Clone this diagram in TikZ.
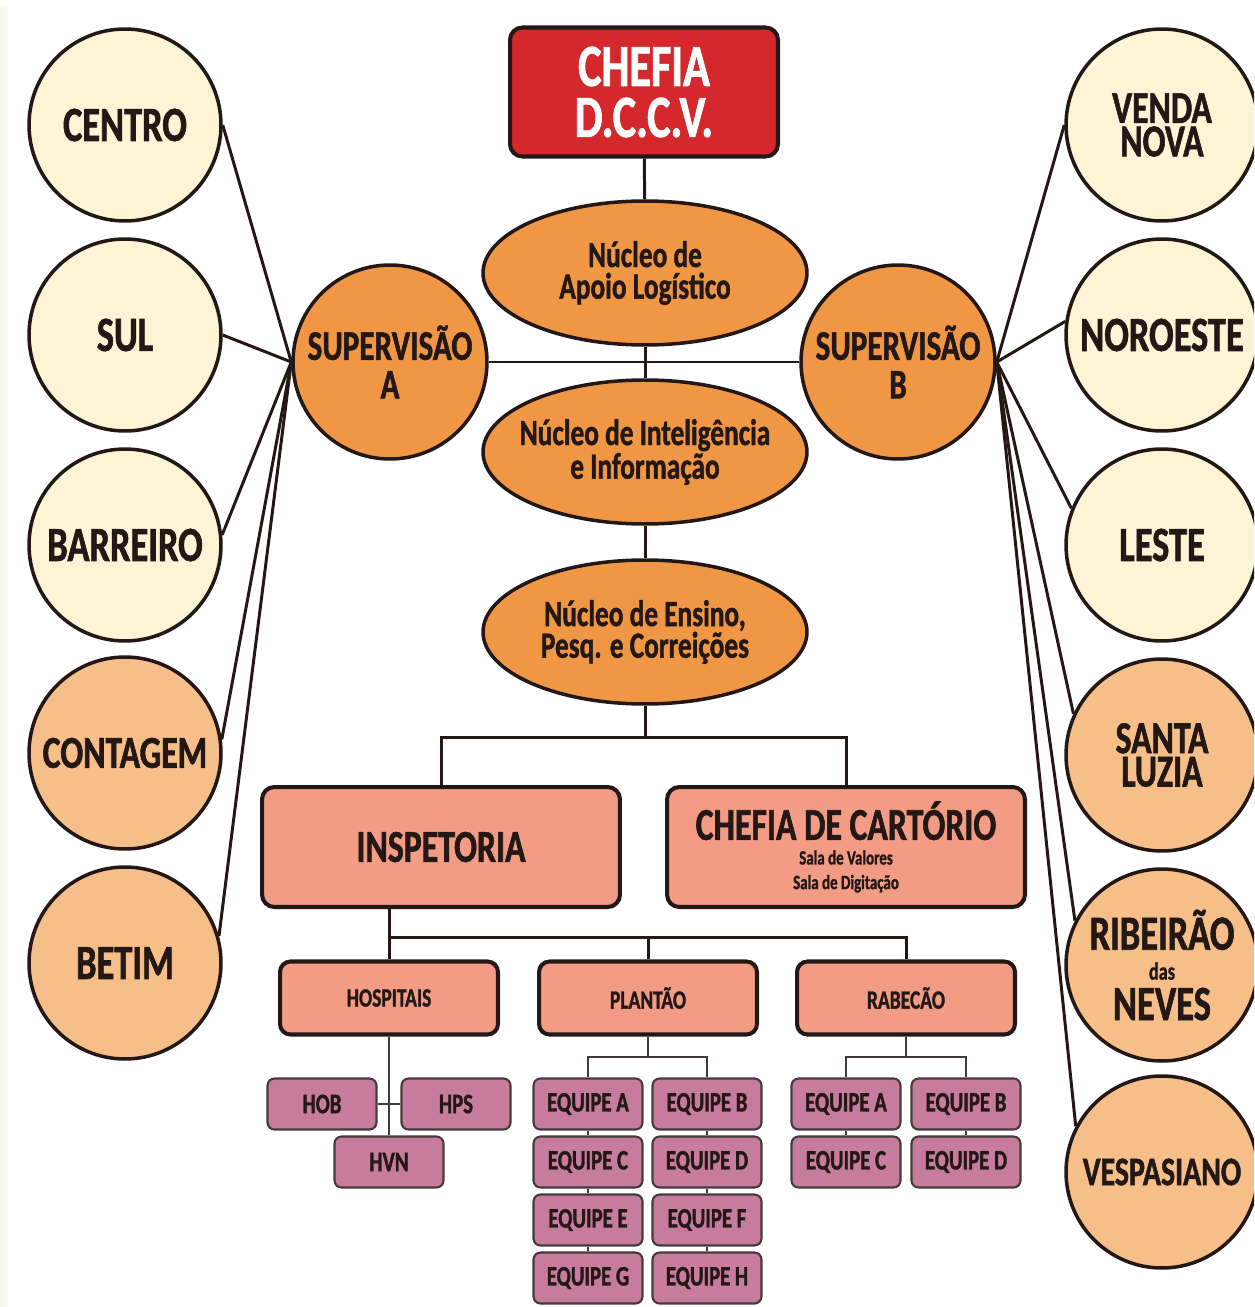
\documentclass[tikz,border=0pt]{standalone}
\usepackage{fontspec}
\setmainfont{Carlito}[FakeStretch=0.74, BoldFeatures={FakeBold=1.2}]
\usetikzlibrary{shapes.geometric}

\definecolor{cream}{HTML}{FCF4D5}
\definecolor{peach}{HTML}{F6BF8A}
\definecolor{orng}{HTML}{EF9744}
\definecolor{chefred}{HTML}{D5282D}
\definecolor{salmon}{HTML}{F29C85}
\definecolor{mauve}{HTML}{C77C9D}
\definecolor{ink}{HTML}{231815}
\newcommand{\fs}[2]{\fontsize{#1}{#2}\selectfont}

\tikzset{
  region/.style={circle, draw=ink, line width=2pt, minimum size=3.84cm, inner sep=0pt,
    align=center, text=ink, font=\bfseries\fs{28}{20}},
  superv/.style={region, fill=orng, minimum size=3.88cm, font=\bfseries\fs{24}{22}},
  nucleo/.style={ellipse, draw=ink, line width=2pt, fill=orng, minimum width=6.48cm,
    minimum height=2.88cm, inner xsep=-1cm, inner ysep=-0.4cm, align=center, text=ink,
    font=\bfseries\fs{21}{18}},
  chefe/.style={rectangle, rounded corners=7pt, draw=ink, line width=2.3pt, fill=chefred,
    text=white, minimum width=5.36cm, minimum height=2.58cm, align=center, font=\bfseries\fs{34}{29}},
  setor/.style={rectangle, rounded corners=7pt, draw=ink, line width=2.3pt, fill=salmon,
    text=ink, minimum width=7.16cm, minimum height=2.4cm, align=center, font=\bfseries\fs{26}{14}},
  secao/.style={setor, rounded corners=6pt, minimum width=4.36cm, minimum height=1.46cm,
    font=\bfseries\fs{15}{15}},
  equipe/.style={rectangle, rounded corners=4pt, draw=ink!85, line width=1.2pt, fill=mauve,
    text=ink, minimum width=2.18cm, minimum height=1.02cm, font=\bfseries\fs{16}{16}},
  link/.style={draw=ink, line width=1.7pt},
  fine/.style={draw=ink!85, line width=1pt}
}

\begin{document}
\begin{tikzpicture}[x=0.02cm, y=-0.02cm]
  \useasboundingbox (0,0) rectangle (1254,1307);
  \clip (0,0) rectangle (1254,1307);
  \shade[left color=cream!80!gray!30, right color=white] (0,8) rectangle (10,1307);

  % regionais
  \node[region, fill=cream] (centro) at (125,125) {CENTRO};
  \node[region, fill=cream] (sul) at (125,335) {SUL};
  \node[region, fill=cream] (barreiro) at (125,545) {BARREIRO};
  \node[region, fill=peach, font=\bfseries\fs{26}{19}] (contagem) at (125,753) {CONTAGEM};
  \node[region, fill=peach] (betim) at (125,963) {BETIM};
  \node[region, fill=cream, font=\bfseries\fs{26}{19}] (vnova) at (1162,125) {VENDA\\NOVA};
  \node[region, fill=cream] (noroeste) at (1162,335) {NOROESTE};
  \node[region, fill=cream] (leste) at (1162,545) {LESTE};
  \node[region, fill=peach, font=\bfseries\fs{26}{19}] (sluzia) at (1162,755) {SANTA\\LUZIA};
  \node[region, fill=peach] (ribeirao) at (1162,965) {RIBEIRÃO\\[-3pt]{\fs{14}{12}das}\\[3pt]NEVES};
  \node[region, fill=peach, font=\bfseries\fs{23}{19}] (vespa) at (1162,1172) {VESPASIANO};

  % supervisoes e chefia
  \node[superv] (supa) at (390,362) {SUPERVISÃO\\A};
  \node[superv] (supb) at (898,362) {SUPERVISÃO\\B};
  \node[chefe] (chefia) at (644,92) {CHEFIA\\D.C.C.V.};

  % nucleos
  \node[nucleo] (apoio) at (645,273) {Núcleo de\\Apoio Logístico};
  \node[nucleo] (intel) at (645,452) {Núcleo de Inteligência\\e Informação};
  \node[nucleo] (ensino) at (645,632) {Núcleo de Ensino,\\Pesq. e Correições};

  % setores
  \node[setor] (insp) at (441,847) {INSPETORIA};
  \node[setor] (cart) at (846,847) {CHEFIA DE CARTÓRIO\\{\fs{11.5}{13}Sala de Valores}\\{\fs{11.5}{13}Sala de Digitação}};
  \node[secao] (hosp) at (389,998) {HOSPITAIS};
  \node[secao] (plant) at (648,998) {PLANTÃO};
  \node[secao] (rabec) at (906,998) {RABECÃO};

  % equipes
  \node[equipe] (hob) at (322,1104) {HOB};
  \node[equipe] (hps) at (456,1104) {HPS};
  \node[equipe] (hvn) at (389,1162) {HVN};
  \foreach \l/\r [count=\i] in {A/B, C/D, E/F, G/H} {
    \node[equipe] (p\l) at (588,1046+58*\i) {EQUIPE \l};
    \node[equipe] (p\r) at (707,1046+58*\i) {EQUIPE \r};
  }
  \foreach \l/\r [count=\i] in {A/B, C/D} {
    \node[equipe] (r\l) at (846,1046+58*\i) {EQUIPE \l};
    \node[equipe] (r\r) at (966,1046+58*\i) {EQUIPE \r};
  }

  % ligacoes
  \draw[link] (chefia) -- (apoio);
  \draw[link] (apoio) -- (intel);
  \draw[link] (intel) -- (ensino);
  \draw[link] (supa) -- (supb);
  \foreach \n/\a in {centro/0, sul/0, barreiro/6, contagem/8, betim/16}
    \draw[link] (supa.west) -- (\n.\a);
  \foreach \n/\a in {vnova/180, noroeste/172, leste/158, sluzia/155, ribeirao/153, vespa/152}
    \draw[link] (supb.east) -- (\n.\a);

  \coordinate (ej) at (645,737);
  \draw[link] (ensino) -- (ej);
  \draw[link] (insp.north) |- (ej) -| (cart.north);

  \coordinate (ij) at (389,937);
  \draw[link] (insp.south -| hosp.north) -- (hosp.north);
  \draw[link] (ij) -| (rabec.north);
  \draw[link] (plant.north) -- (plant.north |- ij);

  \draw[fine] (hosp) -- (hvn);
  \draw[fine] (hob) -- (hps);

  \coordinate (pj) at (648,1057);
  \draw[fine] (plant) -- (pj);
  \draw[fine] (pA.north) |- (pj) -| (pB.north);
  \coordinate (rj) at (906,1057);
  \draw[fine] (rabec) -- (rj);
  \draw[fine] (rA.north) |- (rj) -| (rB.north);
  \foreach \u/\d in {pA/pC, pC/pE, pE/pG, pB/pD, pD/pF, pF/pH, rA/rC, rB/rD}
    \draw[fine] (\u) -- (\d);
\end{tikzpicture}
\end{document}
